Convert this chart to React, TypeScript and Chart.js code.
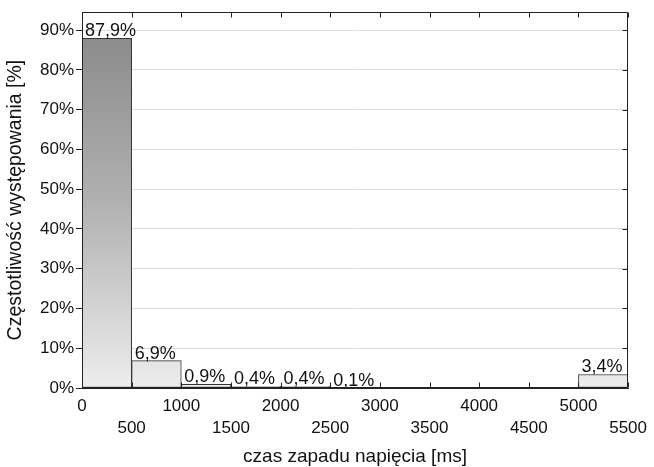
import React, { useEffect, useRef } from 'react';
import { Chart, registerables } from 'chart.js';

Chart.register(...registerables);

const binStarts = [0, 500, 1000, 1500, 2000, 2500, 3000, 3500, 4000, 4500, 5000];
const binWidth = 500;
const frequencies = [87.9, 6.9, 0.9, 0.4, 0.4, 0.1, 0, 0, 0, 0, 3.4];
const barLabels = ['87,9%', '6,9%', '0,9%', '0,4%', '0,4%', '0,1%', '', '', '', '', '3,4%'];
const xTicks = [0, 500, 1000, 1500, 2000, 2500, 3000, 3500, 4000, 4500, 5000, 5500];
const yTicks = [0, 10, 20, 30, 40, 50, 60, 70, 80, 90];
const xTitle = 'czas zapadu napięcia [ms]';
const yTitle = 'Częstotliwość występowania [%]';

const FONT = '"Liberation Sans", Arial, sans-serif';

const frameAndTicks = {
  id: 'frameAndTicks',
  afterDraw(chart: any) {
    const { ctx, chartArea: a, scales } = chart;
    const xs = scales.x;
    const ys = scales.y;
    ctx.save();
    ctx.strokeStyle = '#222';
    ctx.lineWidth = 1;
    ctx.beginPath();
    const L = Math.round(a.left) + 0.5;
    const R = Math.round(a.right) - 0.5;
    const T = Math.round(a.top) + 0.5;
    const B = Math.round(a.bottom) - 0.5;
    ctx.rect(L, T, R - L, B - T);
    const len = 5;
    xTicks.forEach((v) => {
      const px = Math.round(xs.getPixelForValue(v)) + 0.5;
      ctx.moveTo(px, T);
      ctx.lineTo(px, T + len);
      ctx.moveTo(px, B);
      ctx.lineTo(px, B - len);
    });
    yTicks.forEach((v) => {
      const py = Math.round(ys.getPixelForValue(v)) + 0.5;
      ctx.moveTo(R, py);
      ctx.lineTo(R - len, py);
    });
    ctx.stroke();
    ctx.restore();
  },
};

const barValueLabels = {
  id: 'barValueLabels',
  afterDatasetsDraw(chart: any) {
    const { ctx } = chart;
    const meta = chart.getDatasetMeta(0);
    ctx.save();
    ctx.font = '18px ' + FONT;
    ctx.fillStyle = '#111';
    ctx.textAlign = 'left';
    ctx.textBaseline = 'alphabetic';
    meta.data.forEach((bar: any, i: number) => {
      const label = barLabels[i];
      if (!label) return;
      ctx.fillText(label, bar.x - bar.width / 2 + 3, bar.y - 2);
    });
    ctx.restore();
  },
};

export default function App() {
  const canvasRef = useRef<HTMLCanvasElement | null>(null);

  useEffect(() => {
    const canvas = canvasRef.current;
    if (!canvas) return;
    Chart.defaults.font.family = FONT;
    Chart.defaults.color = '#111';

    const chart = new Chart(canvas, {
      type: 'bar',
      data: {
        datasets: [
          {
            data: binStarts.map((s, i) => ({ x: s + binWidth / 2, y: frequencies[i] })),
            backgroundColor: (c: any) => {
              const area = c.chart.chartArea;
              if (!area) return '#bbbbbb';
              const g = c.chart.ctx.createLinearGradient(0, area.top, 0, area.bottom);
              g.addColorStop(0, '#868686');
              g.addColorStop(0.07, '#8c8c8c');
              g.addColorStop(0.5, '#b0b0b0');
              g.addColorStop(1, '#ededed');
              return g;
            },
            borderColor: '#333',
            borderWidth: 1,
            borderSkipped: false,
            barPercentage: 1,
            categoryPercentage: 1,
          } as any,
        ],
      },
      options: {
        animation: false,
        responsive: true,
        maintainAspectRatio: false,
        layout: { padding: { top: 10, right: 24, left: 0, bottom: 0 } },
        plugins: {
          legend: { display: false },
          tooltip: { enabled: false },
        },
        scales: {
          x: {
            type: 'linear',
            min: 0,
            max: 5500,
            offset: false,
            afterBuildTicks: (s: any) => {
              s.ticks = xTicks.map((v) => ({ value: v }));
            },
            afterFit: (s: any) => {
              s.height = 79;
            },
            grid: { display: true, drawOnChartArea: false, drawTicks: false, offset: false },
            border: { display: true, color: '#222' },
            ticks: {
              padding: 7,
              maxRotation: 0,
              autoSkip: false,
              font: { size: 17, lineHeight: 1.3 },
              color: '#111',
              callback: (v: any, i: number) => (i % 2 === 0 ? String(v) : ['', String(v)]),
            },
            title: {
              display: true,
              text: xTitle,
              font: { size: 19 },
              color: '#111',
              padding: { top: 0, bottom: -1 },
            },
          } as any,
          y: {
            min: 0,
            max: 94.5,
            afterBuildTicks: (s: any) => {
              s.ticks = yTicks.map((v) => ({ value: v }));
            },
            afterFit: (s: any) => {
              s.width = 82;
            },
            grid: { color: '#dcdcdc', tickColor: '#222', tickLength: 6, drawTicks: true },
            border: { display: true, color: '#222' },
            ticks: {
              padding: 2,
              font: { size: 17 },
              color: '#111',
              callback: (v: any) => v + '%',
            },
            title: {
              display: true,
              text: yTitle,
              font: { size: 19.5 },
              color: '#111',
              padding: { top: 4, bottom: 0 },
            },
          } as any,
        },
      },
      plugins: [frameAndTicks, barValueLabels],
    });

    return () => chart.destroy();
  }, []);

  return (
    <div style={{ position: 'fixed', left: 0, top: 0, width: 654, height: 467, background: '#fff' }}>
      <canvas ref={canvasRef} />
    </div>
  );
}
